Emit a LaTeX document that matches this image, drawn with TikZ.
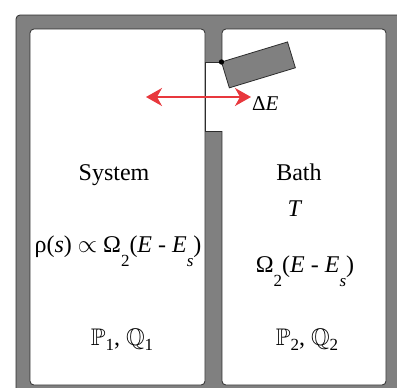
\documentclass[tikz,border=0pt]{standalone}
\usepackage{amssymb}
\usepackage{fontspec}
\setmainfont{Liberation Serif}
\usetikzlibrary{arrows.meta}
\definecolor{wallgray}{RGB}{128,128,128}
\definecolor{edge}{RGB}{45,45,45}
\definecolor{arrowred}{RGB}{232,56,61}
\newcommand\lowr[2]{\raisebox{-#1}{\fontsize{17bp}{17bp}\selectfont #2}}
\tikzset{
  lbl/.style={anchor=base, inner sep=0pt, font=\fontsize{24bp}{24bp}\selectfont},
  roomline/.style={draw=edge, line width=0.8bp},
}
\begin{document}
\begin{tikzpicture}[x=1bp,y=1bp]
\useasboundingbox (0,0) rectangle (397,-388);
\clip (0,0) rectangle (397,-388);
% outer wall
\fill[wallgray, rounded corners=4bp] (16,-15) rectangle (430,-430);
\draw[roomline, rounded corners=4bp] (16,-430) -- (16,-15) -- (430,-15);
% rooms
\draw[roomline, fill=white, rounded corners=4bp] (30,-29) rectangle (205,-385);
\draw[roomline, fill=white, rounded corners=4bp] (222,-29) rectangle (386,-385);
% opening in the middle wall
\fill[white] (205.4,-62) rectangle (222.6,-131);
\draw[roomline] (205,-62) -- (205,-131);
\draw[roomline] (205,-62) -- (221.5,-62);
\draw[roomline] (205,-131) -- (222,-131);
% door
\coordinate (hinge) at (221.5,-62);
\draw[roomline, fill=wallgray, shift={(hinge)}, rotate=16.9] (0,0) rectangle (69,-27);
\fill[black] (hinge) circle (2.7);
% energy exchange arrow
\coordinate (aL) at (146,-97);
\coordinate (aR) at (251,-97);
\draw[arrowred, line width=1.6bp, {Stealth[length=16bp,width=18bp,inset=5bp]}-{Stealth[length=16bp,width=18bp,inset=5bp]}] (aL) -- (aR);
\node[anchor=base west, inner sep=0pt, font=\fontsize{21bp}{21bp}\selectfont] (dE) at (252,-110) {Δ\textit{E}};
% texts
\node[lbl] (sys) at (114,-180) {System};
\node[lbl] (bath) at (299,-180) {Bath};
\node[lbl] (T) at (295,-216) {\textit{T}};
\node[lbl] (rho) at (118,-252) {ρ(\textit{s}) $\propto$ Ω\lowr{14bp}{2}(\textit{E} - \textit{E}\lowr{14bp}{\textit{s}})};
\node[lbl] (om) at (305,-272) {Ω\lowr{14bp}{2}(\textit{E} - \textit{E}\lowr{14bp}{\textit{s}})};
\node[lbl] (pq1) at (122,-345) {$\mathbb{P}$\lowr{5bp}{1}, $\mathbb{Q}$\lowr{5bp}{1}};
\node[lbl] (pq2) at (307,-345) {$\mathbb{P}$\lowr{5bp}{2}, $\mathbb{Q}$\lowr{5bp}{2}};
\end{tikzpicture}
\end{document}
